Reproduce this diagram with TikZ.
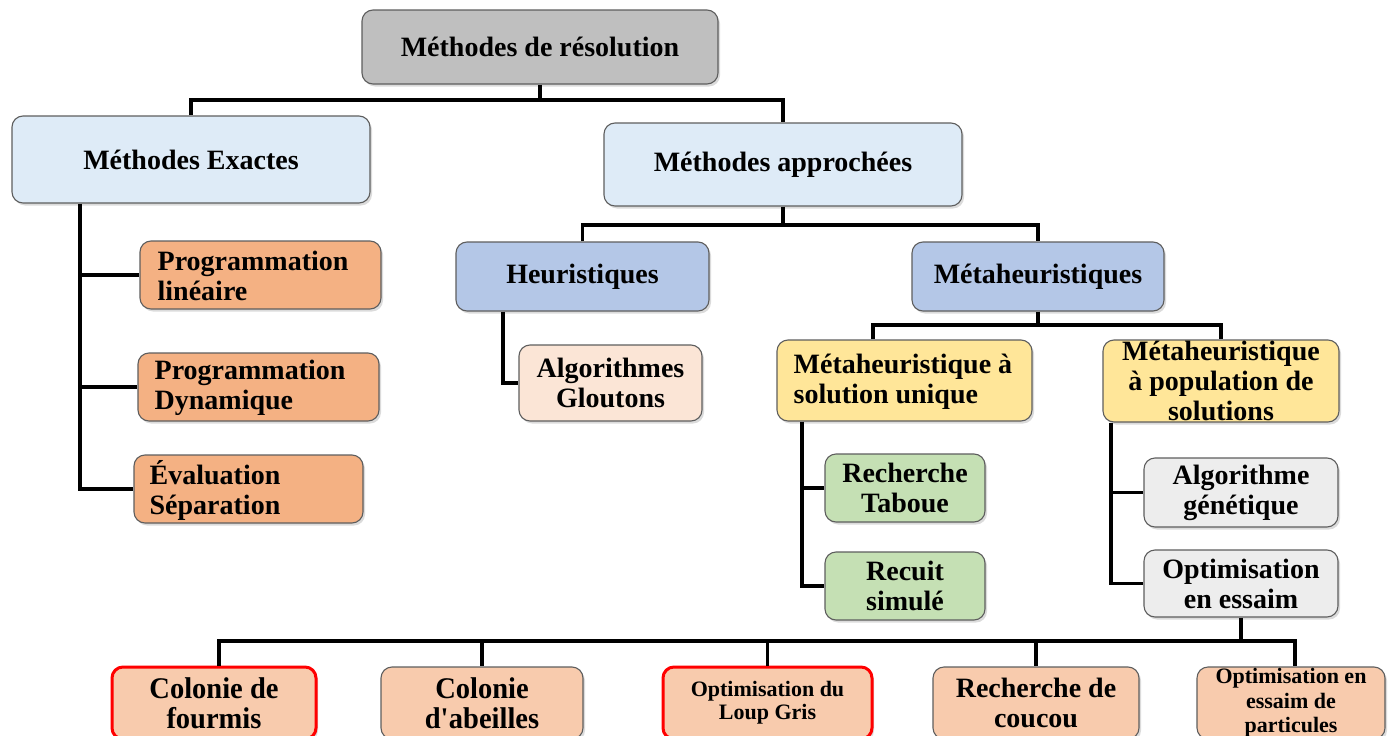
\documentclass[tikz,border=0pt]{standalone}
\usepackage{fontspec}
\setmainfont{Liberation Serif}
\usetikzlibrary{shadows}

\definecolor{edgegray}{HTML}{5E5E5E}
\definecolor{cGray}{HTML}{BFBFBF}
\definecolor{cLightBlue}{HTML}{DEEBF7}
\definecolor{cOrange}{HTML}{F4B183}
\definecolor{cBlue}{HTML}{B4C7E7}
\definecolor{cPeach}{HTML}{FBE5D6}
\definecolor{cYellow}{HTML}{FFE699}
\definecolor{cGreen}{HTML}{C5E0B4}
\definecolor{cLGray}{HTML}{EDEDED}
\definecolor{cSalmon}{HTML}{F8CBAD}
\definecolor{cRed}{HTML}{FF0000}

\begin{document}
\begin{tikzpicture}[x=1pt,y=-1pt,
  box/.style={draw=edgegray, line width=1.1pt, rounded corners=11pt, inner sep=0pt,
    align=center, font=\bfseries\fontsize{28}{30}\selectfont,
    drop shadow={shadow xshift=2pt, shadow yshift=-2.5pt, opacity=0.28}},
  sz/.style n args={2}{minimum width=#1, minimum height=#2},
  lbl/.style={inner sep=0pt, align=left, anchor=west, font=\bfseries\fontsize{28}{30}\selectfont},
  redbox/.style={draw=cRed, line width=3pt},
  condensed/.style={font=\bfseries\fontsize{30}{30}\selectfont\addfontfeature{FakeStretch=0.95}},
  small/.style={font=\bfseries\fontsize{22}{23}\selectfont},
  smallb/.style={font=\bfseries\fontsize{22}{24.5}\selectfont},
  link/.style={draw=black, line width=3.2pt}
]
\clip (0,0) rectangle (1393,736);
\fill[white] (0,0) rectangle (1393,736);

% top level
\node[box, fill=cGray, sz={356pt}{74pt}] (root) at (540,47) {Méthodes de résolution};

% second level
\node[box, fill=cLightBlue, sz={358pt}{87pt}] (exact) at (191,159.5) {Méthodes Exactes};
\node[box, fill=cLightBlue, sz={358pt}{83pt}] (approx) at (783,164.5) {Méthodes approchées};

% exact methods
\node[box, fill=cOrange, sz={241pt}{68pt}] (pl) at (260.5,275) {};
\node[lbl] (plT) at ([xshift=18pt,yshift=-1pt]pl.west) {Programmation\\linéaire};
\node[box, fill=cOrange, sz={241pt}{68pt}] (pd) at (258.5,387) {};
\node[lbl] (pdT) at ([xshift=17pt,yshift=-1pt]pd.west) {Programmation\\Dynamique};
\node[box, fill=cOrange, sz={229pt}{68pt}] (es) at (248.5,489) {};
\node[lbl] (esT) at ([xshift=16pt,yshift=-1pt]es.west) {Évaluation\\Séparation};

% approximate methods
\node[box, fill=cBlue, sz={253pt}{69pt}] (heur) at (582.5,276.5) {\raisebox{-3pt}{Heuristiques}};
\node[box, fill=cBlue, sz={252pt}{69pt}] (meta) at (1038,276.5) {\raisebox{-3pt}{Métaheuristiques}};
\node[box, fill=cPeach, sz={183pt}{76pt}] (glout) at (610.5,383) {Algorithmes\\Gloutons};

\node[box, fill=cYellow, sz={255pt}{81pt}] (unique) at (904.5,380.5) {};
\node[lbl] (uniqueT) at ([xshift=17pt,yshift=-1pt]unique.west) {Métaheuristique à\\solution unique};
\node[box, fill=cYellow, sz={236pt}{82pt}] (pop) at (1221,381) {Métaheuristique\\à population de\\solutions};

\node[box, fill=cGreen, sz={160pt}{68pt}] (tabou) at (905,488) {Recherche\\Taboue};
\node[box, fill=cGreen, sz={160pt}{68pt}] (recuit) at (905,586) {Recuit\\simulé};
\node[box, fill=cLGray, sz={194pt}{69pt}] (gen) at (1241,492.5) {Algorithme\\génétique};
\node[box, fill=cLGray, sz={194pt}{67pt}] (essaim) at (1241,583.5) {Optimisation\\en essaim};

% swarm algorithms
\node[box, redbox, condensed, fill=cSalmon, sz={204pt}{72pt}] (fourmis) at (214,703) {Colonie de\\fourmis};
\node[box, condensed, fill=cSalmon, sz={202pt}{72pt}] (abeilles) at (482,703) {Colonie\\d\textquotesingle abeilles};
\node[box, redbox, small, fill=cSalmon, sz={209pt}{72pt}] (loup) at (767.5,703) {Optimisation du\\Loup Gris};
\node[box, fill=cSalmon, sz={206pt}{72pt}] (coucou) at (1036,703) {Recherche de\\coucou};
\node[box, smallb, fill=cSalmon, sz={188pt}{72pt}] (part) at (1291,703) {Optimisation en\\essaim de\\particules};

% connectors
\coordinate (busTop) at (0,100);
\draw[link] (root.south) -- (root.south |- busTop);
\draw[link] (exact.north) |- (approx.north |- busTop) -- (approx.north);

\coordinate (exTrunk) at (80,0);
\draw[link] (exact.south -| exTrunk) |- (es.west);
\draw[link] (pl.west -| exTrunk) -- (pl.west);
\draw[link] (pd.west -| exTrunk) -- (pd.west);

\coordinate (busA) at (0,225);
\draw[link] (approx.south) -- (approx.south |- busA);
\draw[link] (heur.north) |- (meta.north |- busA) -- (meta.north);

\coordinate (hTrunk) at (503,0);
\draw[link] (heur.south -| hTrunk) |- (glout.west);

\coordinate (busM) at (873,325);
\draw[link] (meta.south) -- (meta.south |- busM);
\draw[link] (busM |- unique.north) |- (pop.north |- busM) -- (pop.north);

\coordinate (uTrunk) at (802,0);
\draw[link] (unique.south -| uTrunk) |- (recuit.west);
\draw[link] (tabou.west -| uTrunk) -- (tabou.west);

\coordinate (pTrunk) at (1111,0);
\draw[link] (pop.south -| pTrunk) |- (essaim.west);
\draw[link] (gen.west -| pTrunk) -- (gen.west);

\coordinate (busL) at (219,641);
\coordinate (busR) at (1295,641);
\draw[link] (busL |- fourmis.north) |- (busR) -- (busR |- part.north);
\draw[link] (essaim.south) -- (essaim.south |- busL);
\draw[link] (abeilles.north |- busL) -- (abeilles.north);
\draw[link] (loup.north |- busL) -- (loup.north);
\draw[link] (coucou.north |- busL) -- (coucou.north);
\end{tikzpicture}
\end{document}
